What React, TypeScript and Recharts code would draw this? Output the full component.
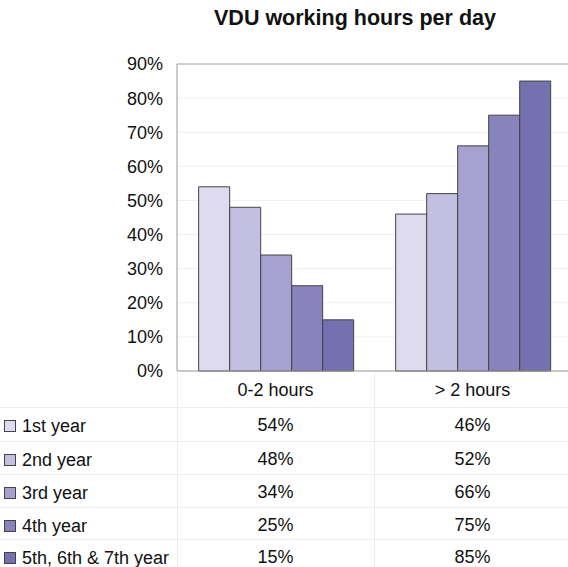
import { BarChart, Bar, XAxis, YAxis, CartesianGrid, ReferenceLine } from 'recharts'

const categories = ['0-2 hours', '> 2 hours']
const seriesNames = ['1st year', '2nd year', '3rd year', '4th year', '5th, 6th & 7th year']
const year1 = [54, 46]
const year2 = [48, 52]
const year3 = [34, 66]
const year4 = [25, 75]
const year5 = [15, 85]
const yTicks = [0, 10, 20, 30, 40, 50, 60, 70, 80, 90]
const colors = ['#dedbee', '#c3bfe0', '#a7a1d0', '#8882bd', '#7570b0']

const seriesValues = [year1, year2, year3, year4, year5]
const keys = ['y1', 'y2', 'y3', 'y4', 'y5']

const data = categories.map((cat, i) => {
  const row: Record<string, string | number> = { cat }
  keys.forEach((k, s) => {
    row[k] = seriesValues[s][i]
  })
  return row
})

const font = '"Liberation Sans", Arial, sans-serif'
const plotLeft = 177
const colWidth = 197
const rowTops = [373, 408, 442, 475, 508, 540]

export default function App() {
  return (
    <div
      style={{
        position: 'absolute',
        left: 0,
        top: 0,
        width: 568,
        height: 567,
        background: '#fff',
        overflow: 'hidden',
        fontFamily: font,
        color: '#111',
      }}
    >
      <div
        style={{
          position: 'absolute',
          left: 155,
          width: 400,
          top: 6,
          textAlign: 'center',
          fontWeight: 'bold',
          fontSize: 21.5,
        }}
      >
        VDU working hours per day
      </div>
      <div style={{ position: 'absolute', left: 0, top: 0 }}>
        <BarChart
          width={571}
          height={385}
          data={data}
          margin={{ top: 64, right: 0, bottom: 13, left: 117 }}
          barCategoryGap="11%"
          barGap={0}
        >
          <CartesianGrid vertical={false} stroke="#efefef" />
          <XAxis dataKey="cat" tick={false} height={1} axisLine={{ stroke: '#999' }} tickLine={false} />
          <YAxis
            domain={[0, 90]}
            ticks={yTicks}
            interval={0}
            width={60}
            tickLine={false}
            tickSize={6}
            tickMargin={8}
            axisLine={{ stroke: '#999' }}
            tickFormatter={(v: number) => `${v}%`}
            tick={{ fill: '#111', fontSize: 18, fontFamily: font }}
          />
          <ReferenceLine y={90} stroke="#aaa" />
          {keys.map((k, s) => (
            <Bar
              key={k}
              dataKey={k}
              name={seriesNames[s]}
              fill={colors[s]}
              stroke="#444"
              strokeWidth={1}
              isAnimationActive={false}
            />
          ))}
        </BarChart>
      </div>
      {/* data table under the plot */}
      <div
        style={{
          position: 'absolute',
          left: plotLeft + colWidth,
          top: 372,
          width: 1,
          height: 200,
          background: '#eeeeee',
        }}
      />
      <div
        style={{
          position: 'absolute',
          left: plotLeft,
          top: 372,
          width: 1,
          height: 200,
          background: '#eeeeee',
        }}
      />
      {rowTops.slice(1).map((t) => (
        <div
          key={t}
          style={{ position: 'absolute', left: 0, top: t - 1, width: 568, height: 1, background: '#eeeeee' }}
        />
      ))}
      {categories.map((c, i) => (
        <div
          key={c}
          style={{
            position: 'absolute',
            left: plotLeft + i * colWidth,
            width: colWidth,
            top: rowTops[0],
            height: 34,
            lineHeight: '34px',
            textAlign: 'center',
            fontSize: 18,
          }}
        >
          {c}
        </div>
      ))}
      {seriesNames.map((name, s) => (
        <div key={name}>
          <div
            style={{
              position: 'absolute',
              left: 4,
              top: rowTops[s + 1] + 12,
              width: 10,
              height: 10,
              background: colors[s],
              border: '1px solid #444',
            }}
          />
          <div
            style={{
              position: 'absolute',
              left: 22,
              top: rowTops[s + 1],
              height: 34,
              lineHeight: '36px',
              fontSize: 18,
              whiteSpace: 'nowrap',
            }}
          >
            {name}
          </div>
          {categories.map((c, i) => (
            <div
              key={c}
              style={{
                position: 'absolute',
                left: plotLeft + i * colWidth,
                width: colWidth,
                top: rowTops[s + 1],
                height: 34,
                lineHeight: '35px',
                textAlign: 'center',
                fontSize: 18,
              }}
            >
              {seriesValues[s][i]}%
            </div>
          ))}
        </div>
      ))}
    </div>
  )
}
